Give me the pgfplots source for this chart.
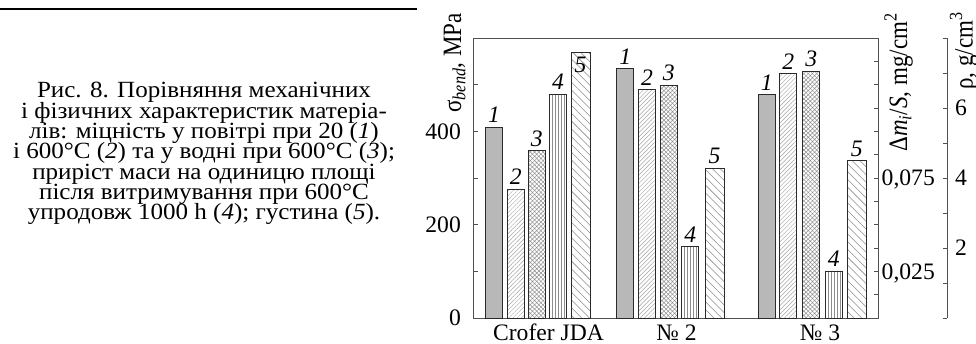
\documentclass[border=0pt]{standalone}
\usepackage{fontspec}
\setmainfont{Liberation Serif}
\usepackage{pgfplots}
\pgfplotsset{compat=1.18}
\usetikzlibrary{patterns.meta}

\definecolor{axisgray}{HTML}{505050}
\definecolor{barfill}{HTML}{B8B8B8}
\definecolor{hatchgray}{HTML}{8C8C8C}
\definecolor{bardraw}{HTML}{2A2A2A}

\newcommand{\tickfont}{\fontsize{23.6}{24}\selectfont}
\newcommand{\labfont}{\fontsize{23}{24}\selectfont}

\pgfplotsset{
  common/.style={
    at={(473pt,25pt)}, anchor=south west, scale only axis,
    height=280pt, ymin=0, xmin=0,
    axis line style={axisgray, line width=0.9pt},
    tick style={axisgray, line width=0.9pt},
    tick align=inside, major tick length=4.5pt,
    scaled y ticks=false,
    clip=false,
  },
  barlab/.style={
    nodes near coords={\textit{#1}},
    every node near coord/.append style={font=\tickfont, anchor=south, inner sep=0pt, text depth=0pt, yshift=4pt, black},
  },
  barstyle/.style={ybar, bar shift=0pt, draw=bardraw, line width=0.8pt},
}

\begin{document}
\begin{tikzpicture}[x=1pt,y=1pt]
\path[use as bounding box] (0,0) rectangle (976,343);
\draw[line width=2.3pt] (0,334) -- (417,334);
\begin{scope}[every node/.style={font=\fontsize{23.2}{20}\selectfont, anchor=base, inner sep=0pt, xscale=1.08}]
\node at (204,245) {Рис. 8. Порівняння механічних};
\node at (204,224.7) {і фізичних характеристик матеріа-};
\node at (204,204.4) {лів: міцність у повітрі при 20 (\textit{1})};
\node at (204,184.1) {і 600°C (\textit{2}) та у водні при 600°C (\textit{3});};
\node at (204,163.8) {приріст маси на одиницю площі};
\node at (204,143.5) {після витримування при 600°C};
\node at (204,123.2) {упродовж 1000 h (\textit{4}); густина (\textit{5}).};
\end{scope}

% main axis: bending strength
\begin{axis}[common,
  width=405pt, xmax=405, ymax=600,
  ytick={0,100,...,600}, yticklabels={0,,200,,400,,},
  ytick pos=left,
  xtick={75.5,203.5,347}, xticklabels={Crofer JDA, № 2, № 3},
  x tick style={draw=none},
  xticklabel style={anchor=base, yshift=-22pt, inner sep=0pt, text depth=0pt, font=\tickfont},
  yticklabel style={anchor=east, inner sep=0pt, xshift=-12pt, font=\tickfont},
  every axis y label/.style={at={(axis description cs:-0.0296,1.089)}, anchor=base east, rotate=90, yscale=1.15, inner sep=0pt, font=\labfont},
  ylabel={σ\textsubscript{\textit{bend}}, MPa},
]
\addplot[barstyle, bar width=17pt, fill=barfill, barlab=1]
  coordinates {(21,409) (152.2,534) (293.7,479)};
\addplot[barstyle, bar width=17pt, pattern={Lines[angle=45,distance=3pt,line width=0.45pt]}, pattern color=hatchgray!80, barlab=2]
  coordinates {(42.7,276) (174,489) (315.3,524)};
\addplot[barstyle, bar width=17pt, pattern={Hatch[angle=45,distance=3pt,line width=0.45pt]}, pattern color=hatchgray, barlab=3]
  coordinates {(63.7,358.5) (195.7,499) (338.3,528.6)};
\end{axis}

% mass gain axis
\begin{axis}[common,
  width=405pt, xmax=405, ymax=0.15,
  axis x line=none, axis y line*=right,
  ytick={0,0.0125,0.025,0.0375,0.05,0.0625,0.075,0.0875,0.1,0.1125,0.125,0.1375,0.15},
  yticklabels={{},{},{0,025},{},{},{},{0,075},{},{},{},{},{},{}},
  yticklabel style={anchor=west, inner sep=0pt, xshift=3.5pt, text depth=0pt, font=\tickfont},
  every axis y label/.style={at={(axis description cs:1.0716,1.089)}, anchor=base east, rotate=90, yscale=1.15, inner sep=0pt, font=\labfont},
  ylabel={Δ\textit{m}\textsubscript{\textit{i}}/\textit{S}, mg/cm\textsuperscript{2}},
]
\addplot[barstyle, bar width=17pt, pattern={Lines[angle=90,distance=3pt,line width=0.45pt]}, pattern color=hatchgray, barlab=4]
  coordinates {(85,0.1198) (217.3,0.0382) (360.7,0.0252)};
\end{axis}

% density axis
\begin{axis}[common,
  width=474pt, xmax=474, ymax=8,
  axis x line=none, axis y line*=right,
  ytick={0,1,...,8}, yticklabels={,,2,,4,,6,,},
  yticklabel style={anchor=west, inner sep=0pt, xshift=8pt, text depth=0pt, font=\tickfont},
  every axis y label/.style={at={(axis description cs:1.0538,1.0929)}, anchor=base east, rotate=90, yscale=1.15, inner sep=0pt, font=\labfont},
  ylabel={ρ, g/cm\textsuperscript{3}},
]
\addplot[barstyle, bar width=19pt, pattern={Lines[angle=-45,distance=5.5pt,line width=0.55pt]}, pattern color=hatchgray, barlab=5]
  coordinates {(241.5,4.28) (383.7,4.49)};
\addplot[barstyle, bar width=19pt, pattern={Lines[angle=-45,distance=5.5pt,line width=0.55pt]}, pattern color=hatchgray,
  nodes near coords={\textit{5}},
  every node near coord/.append style={font=\tickfont, anchor=south, inner sep=0pt, text depth=0pt, yshift=-20pt, black}]
  coordinates {(107.5,7.58)};
\end{axis}
\end{tikzpicture}
\end{document}
